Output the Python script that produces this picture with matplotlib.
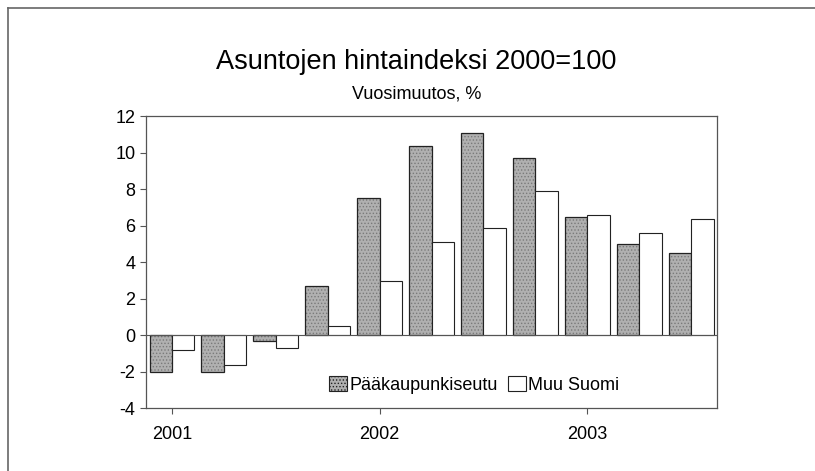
import numpy as np
import matplotlib
matplotlib.use('Agg')
import matplotlib.pyplot as plt
from matplotlib.lines import Line2D

plt.rcParams['font.family'] = ['Liberation Sans', 'DejaVu Sans']
plt.rcParams['axes.unicode_minus'] = False
plt.rcParams['hatch.linewidth'] = 0.6

# quarterly annual change, 2001Q1 .. 2003Q3
quarters = ['2001Q1', '2001Q2', '2001Q3', '2001Q4',
            '2002Q1', '2002Q2', '2002Q3', '2002Q4',
            '2003Q1', '2003Q2', '2003Q3']
paakaupunkiseutu = [-2.0, -2.0, -0.3, 2.7, 7.5, 10.4, 11.1, 9.7, 6.5, 5.0, 4.5]
muu_suomi = [-0.8, -1.6, -0.7, 0.5, 3.0, 5.1, 5.9, 7.9, 6.6, 5.6, 6.4]
year_labels = ['2001', '2002', '2003']
year_pos = [0, 4, 8]

fig = plt.figure(figsize=(8.15, 4.71), dpi=100)
ax = fig.add_axes([0.179, 0.133, 0.701, 0.620])

x = np.arange(len(quarters))
w = 0.43
# stippled grey fill, then dark outline
ax.bar(x - w/2, paakaupunkiseutu, w, color='#b0b0b0', edgecolor='#7a7a7a',
       linewidth=0, hatch='.....')
ax.bar(x - w/2, paakaupunkiseutu, w, fill=False, edgecolor='#222222', linewidth=0.9)
ax.bar(x + w/2, muu_suomi, w, color='white', edgecolor='#222222', linewidth=0.8)

ax.axhline(0, color='#555555', linewidth=0.8)
ax.set_xlim(-0.5, len(quarters) - 0.5)
ax.set_ylim(-4, 12)
ax.set_yticks(np.arange(-4, 13, 2))
ax.set_xticks(year_pos)
ax.set_xticklabels(year_labels)
ax.tick_params(axis='both', labelsize=13, length=4, color='#555555')
ax.tick_params(axis='x', pad=9)
for s in ax.spines.values():
    s.set_color('#555555')
    s.set_linewidth(0.9)

handles = [plt.Rectangle((0, 0), 1, 1, facecolor='#b0b0b0', edgecolor='#222222',
                         hatch='.....', linewidth=0.8),
           plt.Rectangle((0, 0), 1, 1, facecolor='white', edgecolor='#222222',
                         linewidth=0.8)]
ax.legend(handles, ['Pääkaupunkiseutu', 'Muu Suomi'], loc='lower center',
          bbox_to_anchor=(0.575, -0.005), ncol=2, frameon=False,
          fontsize=13, handlelength=1.0, handleheight=0.9, handletextpad=0.1,
          columnspacing=0.6)

fig.text(0.511, 0.868, 'Asuntojen hintaindeksi 2000=100', ha='center', va='center',
         fontsize=19.5)
fig.text(0.511, 0.800, 'Vuosimuutos, %', ha='center', va='center', fontsize=13)

# outer frame lines (top and left)
fig.add_artist(Line2D([0.010, 1.0], [0.983, 0.983], color='#666666', linewidth=1.2))
fig.add_artist(Line2D([0.010, 0.010], [0.0, 0.983], color='#666666', linewidth=1.2))

fig.savefig('out.png', dpi=100)
